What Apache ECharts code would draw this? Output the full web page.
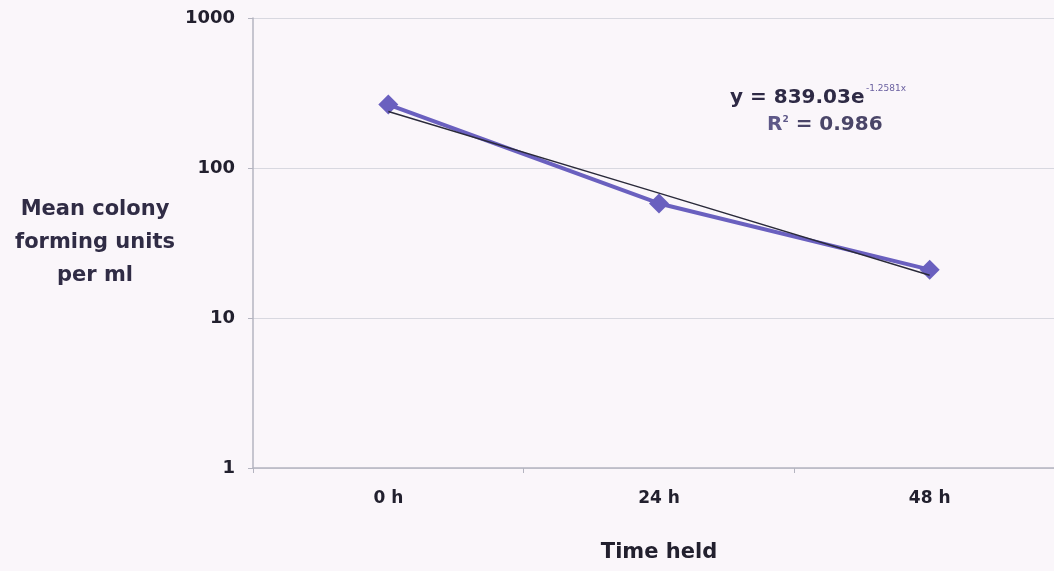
<!DOCTYPE html>
<html><head><meta charset="utf-8">
<script src="https://cdn.jsdelivr.net/npm/echarts@6/dist/echarts.min.js"></script>
<style>html,body{margin:0;padding:0;background:#faf6fa;overflow:hidden;width:1054px;height:571px;}#c{width:1070px;height:571px;}</style>
</head><body><div id="c"></div>
<script>
const categories = ['0 h', '24 h', '48 h'];
const meanCfu = [265, 58, 21];
const trendValues = [238, 68, 19.3];
const yTicks = [1, 10, 100, 1000];
const equationText = 'y = 839.03e';
const exponentText = '-1.2581x';
const r2Text = ' = 0.986';

const chart = echarts.init(document.getElementById('c'));
const font = '"DejaVu Sans", Verdana, sans-serif';
chart.setOption({
  backgroundColor: '#faf6fa',
  animation: false,
  grid: { left: 253, top: 18, width: 812, height: 450 },
  xAxis: {
    type: 'category', data: categories, boundaryGap: true,
    axisLine: { lineStyle: { color: '#b4b4c0', width: 1.5 } },
    axisTick: { show: true, length: 5, lineStyle: { color: '#b4b4c0' } },
    axisLabel: { color: '#22202e', fontFamily: font, fontWeight: 'bold', fontSize: 17, margin: 22 },
    name: 'Time held', nameLocation: 'middle', nameGap: 74,
    nameTextStyle: { color: '#22202e', fontFamily: font, fontWeight: 'bold', fontSize: 21 }
  },
  yAxis: {
    type: 'log', logBase: 10, min: 1, max: 1000,
    axisLine: { show: true, lineStyle: { color: '#b4b4c0', width: 1.5 } },
    axisTick: { show: true, length: 5, lineStyle: { color: '#b4b4c0' } },
    splitLine: { show: true, lineStyle: { color: '#d8d8e0', width: 1 } },
    axisLabel: {
      color: '#22202e', fontFamily: font, fontWeight: 'bold', fontSize: 18, margin: 18,
      formatter: function (v) { return yTicks.indexOf(Math.round(v)) >= 0 ? String(Math.round(v)) : ''; }
    },
    name: 'Mean colony\nforming units\nper ml', nameLocation: 'middle', nameRotate: 0, nameGap: 158,
    nameTextStyle: { color: '#302c45', fontFamily: font, fontWeight: 'bold', fontSize: 21, lineHeight: 33, align: 'center', padding: [8, 0, 0, 0] }
  },
  series: [
    {
      name: 'Mean CFU', type: 'line', data: meanCfu, z: 2,
      symbol: 'diamond', symbolSize: 20,
      lineStyle: { color: '#6a60bf', width: 4 },
      itemStyle: { color: '#6a60bf' }
    },
    {
      name: 'Trend', type: 'line', data: trendValues, z: 3,
      symbol: 'none',
      lineStyle: { color: '#2a2a3a', width: 1.5 }
    }
  ],
  graphic: [
    {
      type: 'text', left: 730, top: 88,
      style: { text: equationText, fontFamily: font, fontWeight: 'bold', fontSize: 20, fill: '#2e2a45' }
    },
    {
      type: 'text', left: 866, top: 84,
      style: { text: exponentText, fontFamily: font, fontSize: 9, fill: '#6a60a0' }
    },
    {
      type: 'text', left: 767, top: 115,
      style: {
        rich: {
          r: { fontFamily: font, fontWeight: 'bold', fontSize: 20, fill: '#5e5888' },
          s: { fontFamily: font, fontWeight: 'bold', fontSize: 9, fill: '#5e5888', verticalAlign: 'top', padding: [0, 0, 11, 0] },
          v: { fontFamily: font, fontWeight: 'bold', fontSize: 20, fill: '#4a4568' }
        },
        text: '{r|R}{s|2}{v|' + r2Text + '}'
      }
    }
  ]
});
</script></body></html>
